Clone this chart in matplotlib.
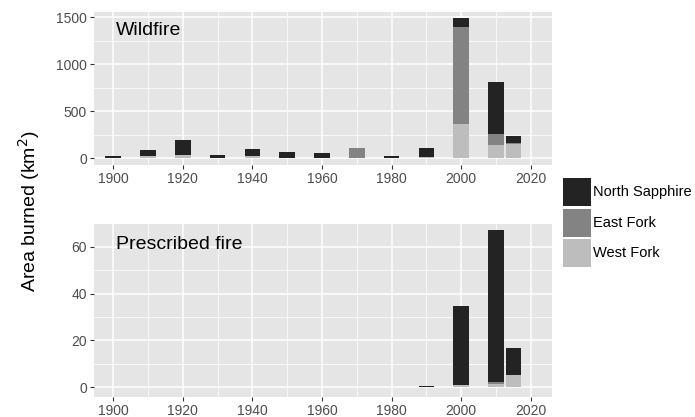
import numpy as np
import matplotlib
matplotlib.use("Agg")
import matplotlib.pyplot as plt
from matplotlib.patches import Patch

plt.rcParams['font.family'] = ['Liberation Sans', 'DejaVu Sans']

# data (km2)
years = [1900, 1910, 1920, 1930, 1940, 1950, 1960, 1970, 1980, 1990, 2000, 2010, 2015]
series = ['North Sapphire', 'East Fork', 'West Fork']
colors = {'North Sapphire': '#232323', 'East Fork': '#838383', 'West Fork': '#BDBDBD'}

wild_west = [5, 25, 40, 5, 25, 5, 5, 0, 5, 15, 360, 140, 150]
wild_east = [0, 0, 0, 0, 0, 0, 0, 105, 0, 0, 1035, 120, 10]
wild_north = [20, 65, 155, 35, 70, 60, 52, 0, 20, 98, 100, 555, 80]

rx_west = [0, 0, 0, 0, 0, 0, 0, 0, 0, 0, 0.8, 1.4, 5.3]
rx_east = [0, 0, 0, 0, 0, 0, 0, 0, 0, 0, 0, 1.0, 0]
rx_north = [0, 0, 0, 0, 0, 0, 0, 0, 0, 0.4, 33.9, 64.6, 11.6]

fig = plt.figure(figsize=(6.95, 4.17), dpi=100)
ax1 = fig.add_axes([0.1353, 0.6043, 0.6585, 0.3676])
ax2 = fig.add_axes([0.1353, 0.0487, 0.6585, 0.4141])


def panel(ax, west, east, north, ylim, yticks, yminor, title):
    ax.set_facecolor('#E5E5E5')
    x = np.array(years)
    w = np.array(west)
    e = np.array(east)
    n = np.array(north)
    ax.bar(x, w, width=4.5, color=colors['West Fork'], zorder=3)
    ax.bar(x, e, width=4.5, bottom=w, color=colors['East Fork'], zorder=3)
    ax.bar(x, n, width=4.5, bottom=w + e, color=colors['North Sapphire'], zorder=3)
    ax.set_xlim(1894.5, 2026)
    ax.set_ylim(*ylim)
    ax.set_xticks(range(1900, 2021, 20))
    ax.set_xticks(range(1910, 2021, 20), minor=True)
    ax.set_yticks(yticks)
    ax.set_yticks(yminor, minor=True)
    ax.grid(which='major', color='white', linewidth=1.1, zorder=0)
    ax.grid(which='minor', color='white', linewidth=0.55, zorder=0)
    ax.set_axisbelow(True)
    for s in ax.spines.values():
        s.set_visible(False)
    ax.tick_params(which='major', length=3, width=0.8, color='#333333',
                   labelcolor='#4D4D4D', labelsize=10, pad=2)
    ax.tick_params(which='minor', length=0)
    ax.text(0.047, 0.93, title, transform=ax.transAxes, fontsize=14,
            va='top', ha='left', color='black')


panel(ax1, wild_west, wild_east, wild_north, (-71, 1560),
      [0, 500, 1000, 1500], [250, 750, 1250], 'Wildfire')
panel(ax2, rx_west, rx_east, rx_north, (-4.0, 69.7),
      [0, 20, 40, 60], [10, 30, 50], 'Prescribed fire')

fig.text(0.042, 0.495, 'Area burned (km$^2$)', rotation=90, fontsize=14,
         va='center', ha='center')

handles = [Patch(facecolor=colors[s], edgecolor='none') for s in series]
fig.legend(handles, series, loc='upper left', bbox_to_anchor=(0.8096, 0.5731),
           frameon=False, fontsize=10.5, handlelength=1.92, handleheight=2.58,
           handletextpad=0.15, labelspacing=0.17, borderpad=0, borderaxespad=0)

fig.savefig('out.png', dpi=100)
